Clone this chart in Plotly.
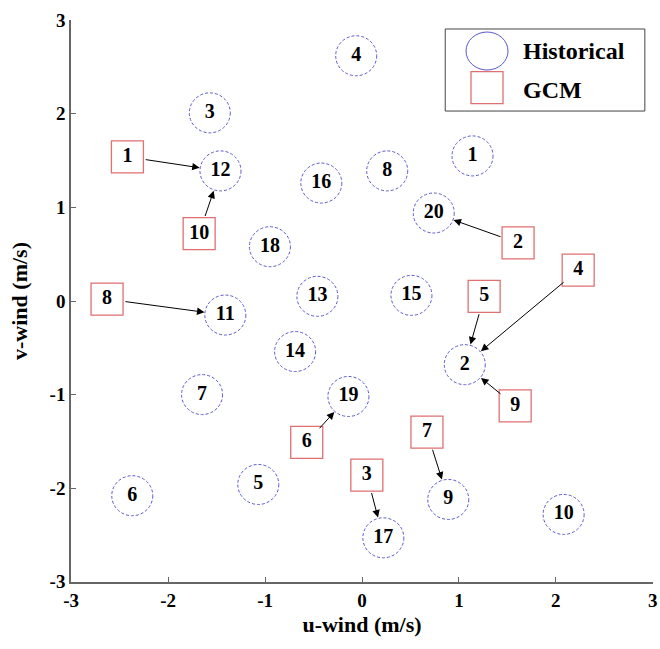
import plotly.graph_objects as go

# Historical points (labels 1..20)
hist_labels = [str(i) for i in range(1, 21)]
hist_u = [1.14, 1.06, -1.57, -0.06, -1.07, -2.37, -1.65, 0.26, 0.89, 2.08,
          -1.41, -1.46, -0.46, -0.69, 0.51, -0.42, 0.22, -0.95, -0.14, 0.74]
hist_v = [1.55, -0.68, 2.01, 2.62, -1.96, -2.08, -1.00, 1.39, -2.12, -2.28,
          -0.15, 1.39, 0.05, -0.54, 0.06, 1.26, -2.53, 0.58, -1.02, 0.94]

# GCM points (labels 1..10)
gcm_labels = [str(i) for i in range(1, 11)]
gcm_u = [-2.42, 1.61, 0.05, 2.23, 1.26, -0.57, 0.67, -2.63, 1.58, -1.68]
gcm_v = [1.54, 0.62, -1.86, 0.33, 0.05, -1.51, -1.40, 0.02, -1.12, 0.72]
# historical label each GCM point maps to
gcm_target = [12, 20, 17, 2, 2, 19, 9, 11, 2, 12]

tick_vals = [-3, -2, -1, 0, 1, 2, 3]
tick_text = ["-3", "-2", "-1", "0", "1", "2", "3"]

FONT = "Liberation Serif"
CIRC_COL = "#5858d0"
SQ_COL = "#e07070"

fig = go.Figure()

# circle outlines (dashed) as pixel-sized shapes anchored on data
for u, v in zip(hist_u, hist_v):
    fig.add_shape(type="circle", xref="x", yref="y", xsizemode="pixel", ysizemode="pixel",
                  xanchor=u, yanchor=v, x0=-20.5, x1=20.5, y0=-20, y1=20,
                  line=dict(color=CIRC_COL, width=1, dash="3px,2px"), layer="above")

fig.add_trace(go.Scatter(x=hist_u, y=hist_v, mode="text", text=hist_labels,
                         textposition="middle center",
                         textfont=dict(family=FONT, size=20, color="black", weight="bold"),
                         showlegend=False, hoverinfo="skip"))

fig.add_trace(go.Scatter(x=gcm_u, y=gcm_v, mode="markers+text", text=gcm_labels,
                         textposition="middle center",
                         marker=dict(symbol="square", size=32, color="rgba(255,255,255,0)",
                                     line=dict(color=SQ_COL, width=1.3)),
                         textfont=dict(family=FONT, size=20, color="black", weight="bold"),
                         showlegend=False, hoverinfo="skip"))

for gu, gv, t in zip(gcm_u, gcm_v, gcm_target):
    fig.add_annotation(x=hist_u[t - 1], y=hist_v[t - 1], ax=gu, ay=gv,
                       xref="x", yref="y", axref="x", ayref="y", text="",
                       showarrow=True, arrowhead=2, arrowsize=1.5, arrowwidth=1,
                       arrowcolor="black", standoff=21, startstandoff=17)

# legend box
fig.add_shape(type="rect", xref="paper", yref="paper", x0=0.643, x1=0.986, y0=0.838, y1=0.984,
              line=dict(color="#444", width=1), fillcolor="white", layer="above")
fig.add_shape(type="circle", xref="paper", yref="paper", xsizemode="pixel", ysizemode="pixel",
              xanchor=0.7148, yanchor=0.9448, x0=-21, x1=21, y0=-19, y1=19,
              line=dict(color=CIRC_COL, width=1), layer="above")
fig.add_shape(type="rect", xref="paper", yref="paper", xsizemode="pixel", ysizemode="pixel",
              xanchor=0.7148, yanchor=0.8795, x0=-16, x1=16, y0=-16, y1=16,
              line=dict(color=SQ_COL, width=1.3), layer="above")
fig.add_annotation(xref="paper", yref="paper", x=0.774, y=0.9448, text="Historical",
                   showarrow=False, xanchor="left", yanchor="middle",
                   font=dict(family=FONT, size=24, color="black", weight="bold"))
fig.add_annotation(xref="paper", yref="paper", x=0.774, y=0.875, text="GCM",
                   showarrow=False, xanchor="left", yanchor="middle",
                   font=dict(family=FONT, size=24, color="black", weight="bold"))

axis_common = dict(range=[-3.002, 3.002], tickvals=tick_vals, ticktext=tick_text,
                   showgrid=False, zeroline=False, automargin=False,
                   showline=True, linecolor="#666", linewidth=1.5, ticks="inside",
                   ticklen=5, tickcolor="#666", mirror=False,
                   tickfont=dict(family=FONT, size=19, color="black", weight="bold"))

fig.update_layout(
    width=660, height=649,
    margin=dict(l=71, r=7, t=20, b=67),
    plot_bgcolor="white", paper_bgcolor="white",
    xaxis=dict(**axis_common,
               title=dict(text="u-wind (m/s)", standoff=7,
                          font=dict(family=FONT, size=22, color="black", weight="bold"))),
    yaxis=dict(**axis_common,
               title=dict(text="v-wind (m/s)", standoff=16,
                          font=dict(family=FONT, size=22, color="black", weight="bold"))),
    showlegend=False,
)

# remove the page's default 8px body margin so the figure fills the window exactly
fig.write_html("out.html", config={"displayModeBar": False},
               post_script="document.body.style.margin='0';document.body.style.overflow='hidden';")
